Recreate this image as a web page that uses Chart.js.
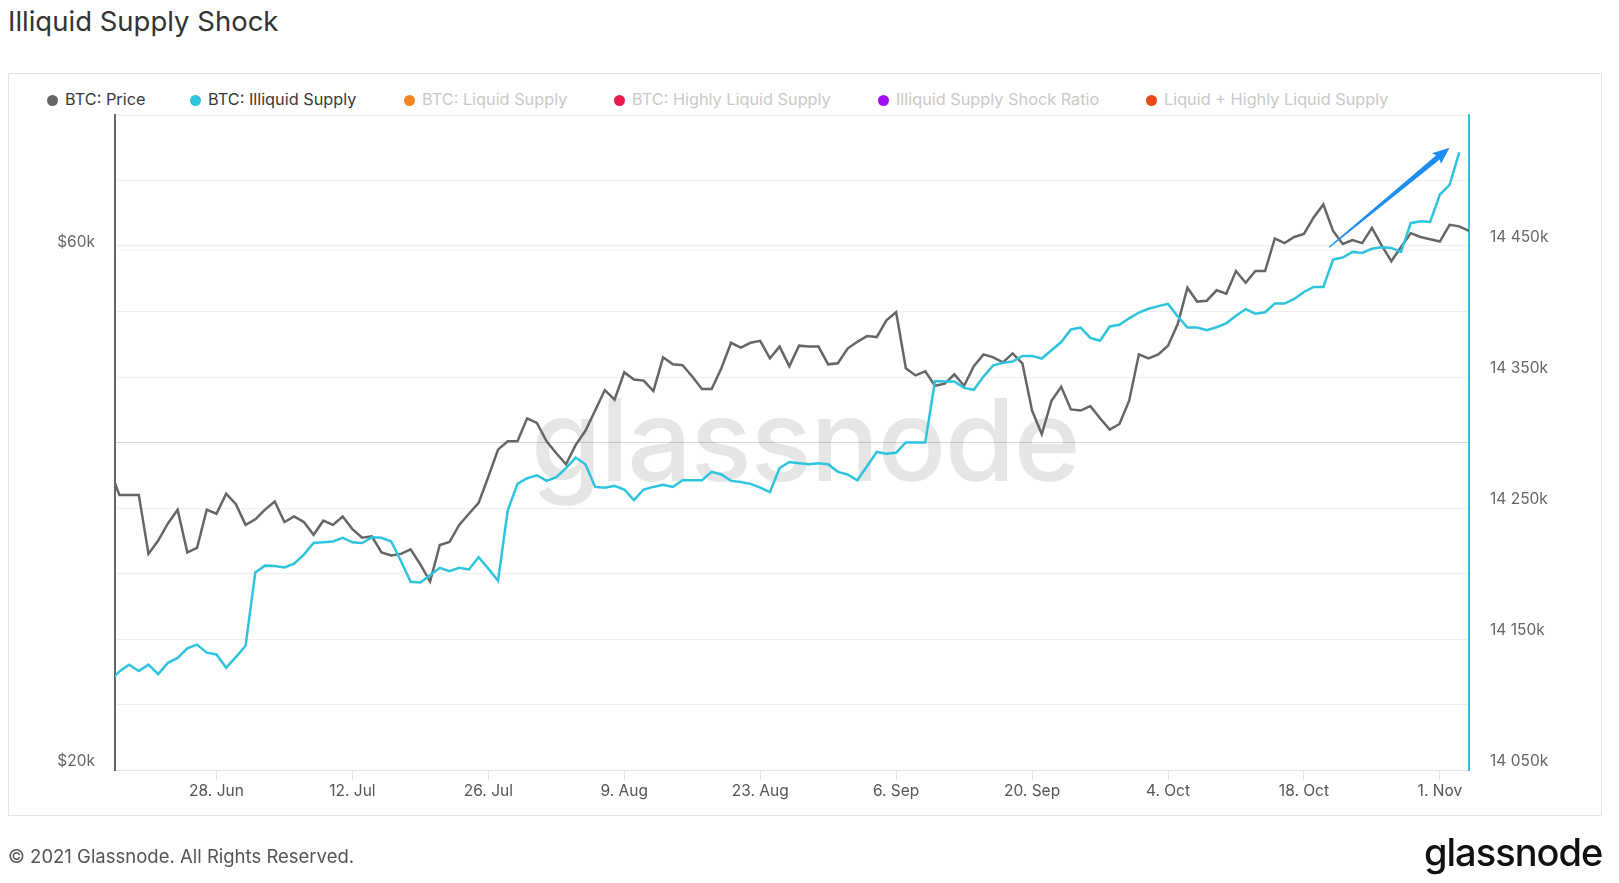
<!DOCTYPE html>
<html>
<head>
<meta charset="utf-8">
<title>Illiquid Supply Shock</title>
<script src="https://cdn.jsdelivr.net/npm/chart.js@4.4.1/dist/chart.umd.min.js"></script>
<style>
  body { margin:0; width:1619px; height:883px; background:#fff; position:relative; overflow:hidden; font-family: Inter, "Open Sans", sans-serif; }
  .title { position:absolute; left:8px; top:4px; font-size:27.5px; color:#333; }
  .frame { position:absolute; left:8px; top:73px; width:1592px; height:741px; border:1px solid #e4e4e4; }
  .legend { position:absolute; top:89px; left:0; height:20px; font-size:16.3px; }
  .item { position:absolute; top:0; white-space:nowrap; line-height:20px; color:#3a3a3a; }
  .item i { display:inline-block; width:11px; height:11px; border-radius:50%; margin-right:7px; vertical-align:-1px; }
  .item.off { color:#c9c9c9; }
  .watermark { position:absolute; left:531px; top:371px; font-size:114px; font-weight:500; color:#e6e6e6; letter-spacing:-1.5px; }
  #chart { position:absolute; left:0; top:0; }
  .footer { position:absolute; left:8px; top:845px; font-size:18.5px; color:#555; }
  .logo { position:absolute; left:1424px; top:829px; font-size:38px; font-weight:500; color:#111; letter-spacing:-1px; }
</style>
</head>
<body>
<div class="title">Illiquid Supply Shock</div>
<div class="frame"></div>
<div class="legend">
  <div class="item" style="left:47px"><i style="background:#666"></i>BTC: Price</div>
  <div class="item" style="left:190px"><i style="background:#2ec4de"></i>BTC: Illiquid Supply</div>
  <div class="item off" style="left:404px"><i style="background:#f5841f"></i>BTC: Liquid Supply</div>
  <div class="item off" style="left:614px"><i style="background:#e8194b"></i>BTC: Highly Liquid Supply</div>
  <div class="item off" style="left:878px"><i style="background:#a410f5"></i>Illiquid Supply Shock Ratio</div>
  <div class="item off" style="left:1146px"><i style="background:#e84a14"></i>Liquid + Highly Liquid Supply</div>
</div>
<div class="watermark">glassnode</div>
<canvas id="chart" width="1619" height="883"></canvas>
<div class="footer">© 2021 Glassnode. All Rights Reserved.</div>
<div class="logo">glassnode</div>

<script>
// daily points, index 0 = 17 Jun 2021
const btcPrice = [
  37800,
  35800, 35800, 35800, 31600, 32500, 33700, 34700, 31700, 32000, 34700,
  34400, 35900, 35100, 33600, 34000, 34700, 35300, 33800, 34200, 33800,
  32900, 33900, 33600, 34200, 33300, 32700, 32800, 31700,
  31500, 31600, 31900, 30900, 29800, 32200, 32400, 33600, 34400, 35200,
  37200, 39400, 40100, 40100, 42100, 41700, 40100, 39100, 38200, 39800,
  41000, 42800, 44700, 43800, 46400, 45700, 45600, 44600,
  47900, 47200, 47100, 46000, 44800, 44800, 46800, 49400, 48900, 49400,
  49600, 47800, 49000, 47000, 49100, 49000, 49000, 47200, 47300, 48800,
  49500, 50100, 50000, 51800, 52700, 46800, 46100,
  46500, 45100, 45300, 46200, 45100, 47000, 48200, 47900, 47400, 48300,
  47300, 42800, 40700, 43700, 45000, 42900, 42800, 43200, 42100, 41100,
  41600, 43700, 48200, 47800, 48200, 49100, 51400, 55500,
  53900, 54000, 55200, 54800, 57500, 56100, 57500, 57500, 61600, 61000,
  61800, 62200, 64400, 66200, 62600, 60900, 61400, 61000, 63000, 60700,
  58700, 60500, 62300, 61800, 61500, 61200, 63400, 63200, 62600
];

// illiquid supply in thousands of BTC
const illiquidSupplyK = [
  14117.5,
  14125.3, 14130.4, 14125.6, 14130.4, 14123.2, 14131.8, 14135.6, 14142.8, 14145.7, 14139.6,
  14138.2, 14128.1, 14136.2, 14144.8, 14200.8, 14206.0, 14205.7, 14204.6, 14207.5, 14214.4,
  14223.3, 14223.8, 14224.4, 14227.3, 14223.8, 14223.3, 14227.6, 14227.3,
  14224.4, 14209.5, 14193.7, 14193.1, 14198.6, 14204.3, 14201.7, 14204.3, 14203.1, 14212.4,
  14203.7, 14194.5, 14248.3, 14268.4, 14272.7, 14275.0, 14270.7, 14273.6, 14280.5, 14288.5,
  14283.4, 14266.1, 14265.5, 14267.0, 14264.1, 14256.0, 14264.1, 14266.1,
  14267.8, 14266.1, 14271.2, 14271.2, 14271.2, 14277.6, 14275.6, 14270.7, 14269.9, 14268.4,
  14265.5, 14262.1, 14280.5, 14285.1, 14284.2, 14283.4, 14284.2, 14283.4, 14277.6, 14275.6,
  14271.2, 14281.9, 14292.8, 14291.4, 14292.2, 14300.0, 14300.0,
  14300.0, 14346.9, 14346.6, 14346.6, 14341.7, 14340.2, 14350.3, 14358.9, 14360.9, 14361.8,
  14366.1, 14366.1, 14364.1, 14370.4, 14376.7, 14386.3, 14387.7, 14379.9, 14377.7, 14388.6,
  14389.9, 14394.8, 14399.2, 14402.1, 14404.1, 14405.8, 14396.3, 14387.7,
  14387.7, 14385.7, 14388.0, 14391.0, 14396.8, 14401.8, 14398.3, 14399.4, 14406.1, 14406.1,
  14409.6, 14414.9, 14418.7, 14418.7, 14439.7, 14441.2, 14445.5, 14444.7, 14447.9, 14449.0,
  14448.5, 14445.5, 14467.4, 14468.9, 14468.3, 14489.3, 14496.6, 14521.4, null
];

// x ticks (day index from 17 Jun)
const tickDays   = [11, 25, 39, 53, 67, 81, 95, 109, 123, 137];
const tickLabels = ['28. Jun', '12. Jul', '26. Jul', '9. Aug', '23. Aug', '6. Sep', '20. Sep', '4. Oct', '18. Oct', '1. Nov'];

const priceTicks  = [20000, 40000, 60000];
const supplyTicks = [14050, 14100, 14150, 14200, 14250, 14300, 14350, 14400, 14450, 14500, 14550];

// hand-drawn trend arrow, [day index, supply k]
const arrowFrom = [125.6, 14449];
const arrowTo   = [138.0, 14525];

const toPoints = arr => arr.map((v, i) => ({ x: i, y: v }));

const arrowPlugin = {
  id: 'trendArrow',
  afterDatasetsDraw(chart) {
    const { ctx, scales } = chart;
    const x0 = scales.x.getPixelForValue(arrowFrom[0]), y0 = scales.ySupply.getPixelForValue(arrowFrom[1]);
    const x1 = scales.x.getPixelForValue(arrowTo[0]),   y1 = scales.ySupply.getPixelForValue(arrowTo[1]);
    const len = Math.hypot(x1 - x0, y1 - y0);
    ctx.save();
    ctx.translate(x0, y0);
    ctx.rotate(Math.atan2(y1 - y0, x1 - x0));
    ctx.fillStyle = '#1e8ff2';
    ctx.beginPath();
    ctx.moveTo(0, -0.6);
    ctx.lineTo(len - 15, -2.8);
    ctx.lineTo(len - 17, -7);
    ctx.lineTo(len, 0);
    ctx.lineTo(len - 17, 7);
    ctx.lineTo(len - 15, 2.8);
    ctx.lineTo(0, 0.6);
    ctx.closePath();
    ctx.fill();
    ctx.restore();
  }
};

new Chart(document.getElementById('chart'), {
  type: 'line',
  data: {
    datasets: [
      {
        label: 'BTC: Illiquid Supply',
        data: toPoints(illiquidSupplyK),
        yAxisID: 'ySupply',
        borderColor: '#2ec4de',
        borderWidth: 2.5,
        pointRadius: 0,
        tension: 0,
        order: 0
      },
      {
        label: 'BTC: Price',
        data: toPoints(btcPrice),
        yAxisID: 'yPrice',
        borderColor: '#666666',
        borderWidth: 2.5,
        pointRadius: 0,
        tension: 0,
        order: 1
      }
    ]
  },
  options: {
    responsive: false,
    animation: false,
    layout: { padding: { top: 115, left: 0, right: 0, bottom: 0 } },
    plugins: { legend: { display: false }, tooltip: { enabled: false } },
    scales: {
      x: {
        type: 'linear',
        min: 0.55,
        max: 140,
        afterBuildTicks: s => { s.ticks = tickDays.map(v => ({ value: v })); },
        afterFit: s => { s.height = 113; },
        grid: { drawOnChartArea: false, drawTicks: true, tickLength: 10, color: '#e2e2e2' },
        border: { display: true, color: '#e2e2e2', width: 1 },
        ticks: {
          autoSkip: false,
          maxRotation: 0,
          padding: 2,
          color: '#555',
          font: { family: 'Inter', size: 15.5 },
          callback: v => tickLabels[tickDays.indexOf(v)]
        }
      },
      yPrice: {
        type: 'logarithmic',
        position: 'left',
        min: 20000,
        max: 80000,
        afterBuildTicks: s => { s.ticks = priceTicks.map(v => ({ value: v })); },
        afterFit: s => { s.width = 115; },
        grid: {
          drawTicks: false,
          color: c => c.tick.value === 40000 ? 'rgba(0,0,0,0.10)' : (c.tick.value === 60000 ? 'rgba(0,0,0,0.04)' : 'rgba(0,0,0,0)')
        },
        border: { display: true, color: '#666', width: 2 },
        ticks: {
          padding: 20,
          labelOffset: -9,
          color: '#666',
          font: { family: 'Inter', size: 15.5 },
          callback: v => v === 40000 ? '' : '$' + (v / 1000) + 'k'
        }
      },
      ySupply: {
        type: 'linear',
        position: 'right',
        min: 14050,
        max: 14550,
        afterBuildTicks: s => { s.ticks = supplyTicks.map(v => ({ value: v })); },
        afterFit: s => { s.width = 150; },
        grid: { drawTicks: false, color: 'rgba(0,0,0,0.065)' },
        border: { display: true, color: '#2ec4de', width: 2 },
        ticks: {
          padding: 21,
          labelOffset: -9,
          color: '#666',
          font: { family: 'Inter', size: 15.5 },
          callback: v => ((v - 14050) % 100 === 0 && v < 14550) ? '14 ' + String(v).slice(2) + 'k' : ''
        }
      }
    }
  },
  plugins: [arrowPlugin]
});
</script>
</body>
</html>
